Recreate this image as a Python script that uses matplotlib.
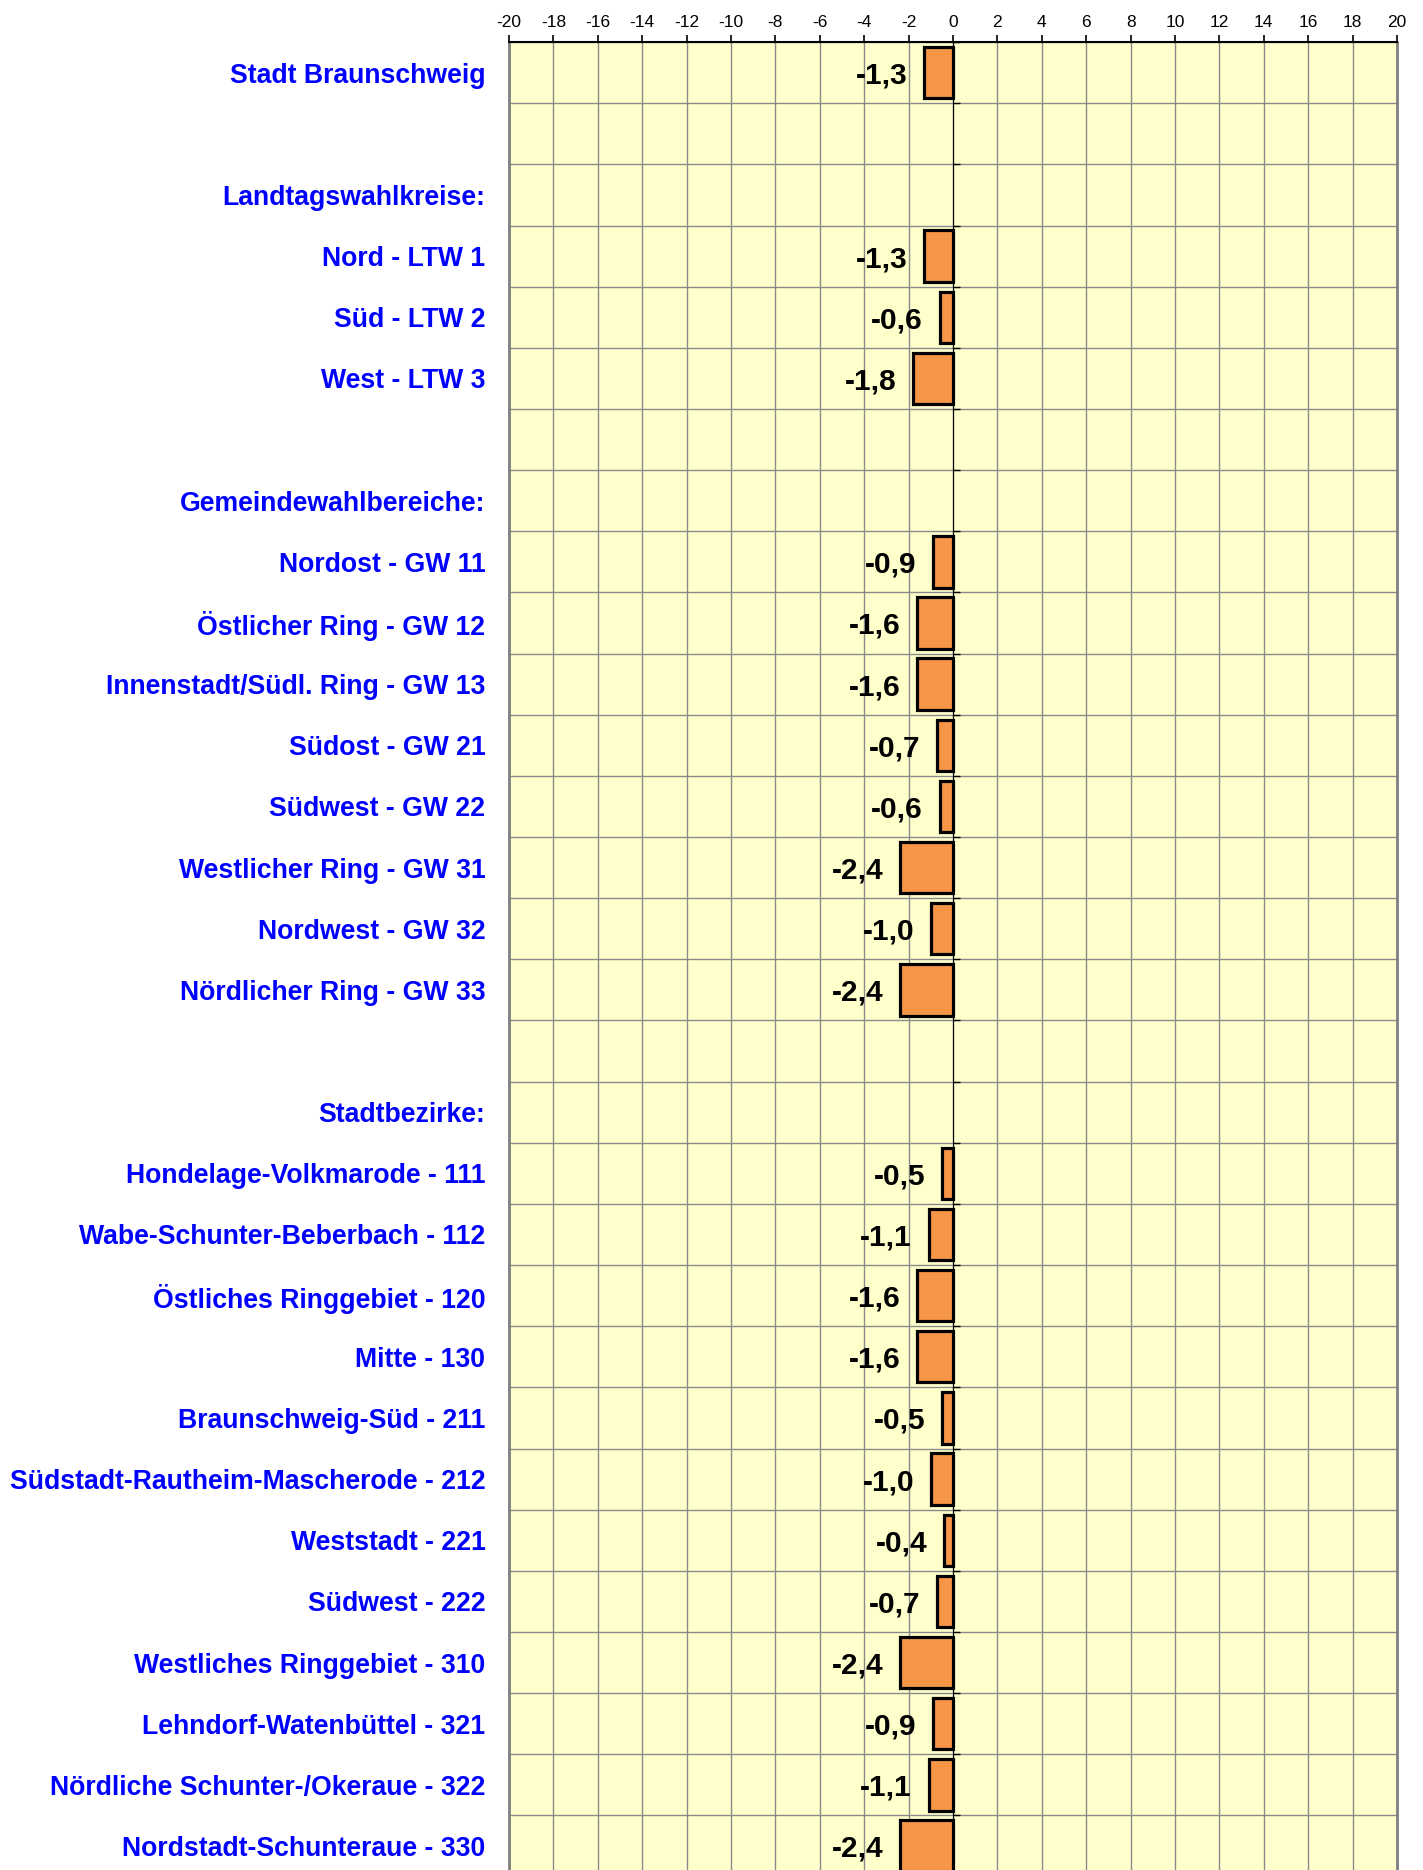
import numpy as np
import matplotlib
matplotlib.use("Agg")
import matplotlib.pyplot as plt

plt.rcParams['font.family'] = ['Liberation Sans', 'DejaVu Sans']
plt.rcParams['axes.unicode_minus'] = False

# Rows from top to bottom; None = no bar (header or spacer row)
labels = [
    "Stadt Braunschweig", "",
    "Landtagswahlkreise:", "Nord - LTW 1", "Süd - LTW 2", "West - LTW 3", "",
    "Gemeindewahlbereiche:", "Nordost - GW 11", "Östlicher Ring - GW 12",
    "Innenstadt/Südl. Ring - GW 13", "Südost - GW 21", "Südwest - GW 22",
    "Westlicher Ring - GW 31", "Nordwest - GW 32", "Nördlicher Ring - GW 33", "",
    "Stadtbezirke:", "Hondelage-Volkmarode - 111", "Wabe-Schunter-Beberbach - 112",
    "Östliches Ringgebiet - 120", "Mitte - 130", "Braunschweig-Süd - 211",
    "Südstadt-Rautheim-Mascherode - 212", "Weststadt - 221", "Südwest - 222",
    "Westliches Ringgebiet - 310", "Lehndorf-Watenbüttel - 321",
    "Nördliche Schunter-/Okeraue - 322", "Nordstadt-Schunteraue - 330",
]
values = [
    -1.3, None,
    None, -1.3, -0.6, -1.8, None,
    None, -0.9, -1.6, -1.6, -0.7, -0.6, -2.4, -1.0, -2.4, None,
    None, -0.5, -1.1, -1.6, -1.6, -0.5, -1.0, -0.4, -0.7, -2.4, -0.9, -1.1, -2.4,
]
x_ticks = list(range(-20, 21, 2))

fig = plt.figure(figsize=(14.23, 18.70), dpi=100)
ax = fig.add_axes([0.3577, -0.0035, 0.624, 0.981])
ax.set_facecolor('#FFFFCC')

n = len(labels)
pos = np.arange(n)
for y, v in zip(pos, values):
    if v is None:
        continue
    ax.barh(y, v, height=0.84, color='#F79646', edgecolor='black',
            linewidth=2.3, zorder=3)
    ax.annotate(f"{v:.1f}".replace('.', ','), xy=(v, y),
                xytext=(-12, 0), textcoords='offset points',
                ha='right', va='center_baseline', fontsize=21.5,
                fontweight='bold', color='black', zorder=4)

ax.set_xlim(-20, 20)
ax.set_ylim(n - 0.5, -0.5)

# top axis with value ticks
ax.xaxis.tick_top()
ax.set_xticks(x_ticks)
ax.set_xticklabels([str(t) for t in x_ticks], fontsize=12.5)
ax.tick_params(axis='x', direction='out', length=5, width=1.2, pad=4)

# category labels on the left
ax.set_yticks(pos)
ax.set_yticklabels(labels, fontsize=19.2, fontweight='bold', color='#0000FF')
ax.tick_params(axis='y', which='major', length=0, pad=17)
ax.set_yticks(np.arange(n + 1) - 0.5, minor=True)
ax.tick_params(axis='y', which='minor', length=0)

grid_color = '#8a8a8a'
ax.grid(axis='x', color=grid_color, linewidth=1.0, zorder=0)
ax.grid(axis='y', which='minor', color=grid_color, linewidth=1.0, zorder=0)
ax.set_axisbelow(True)

ax.spines['top'].set_color('black')
ax.spines['top'].set_linewidth(1.5)
for side in ('left', 'right'):
    ax.spines[side].set_color('#808080')
    ax.spines[side].set_linewidth(2.0)
ax.spines['bottom'].set_visible(False)

# zero line with small ticks at the row boundaries
zero_axis = ax.secondary_yaxis(0.5)
zero_axis.spines['left'].set_color('black')
zero_axis.spines['left'].set_linewidth(1.2)
zero_axis.set_yticks(np.arange(n + 1) - 0.5)
zero_axis.set_yticklabels([])
zero_axis.tick_params(axis='y', length=5, width=1.0, direction='out')
zero_axis.set_zorder(2)

fig.savefig('out.png', dpi=100)
